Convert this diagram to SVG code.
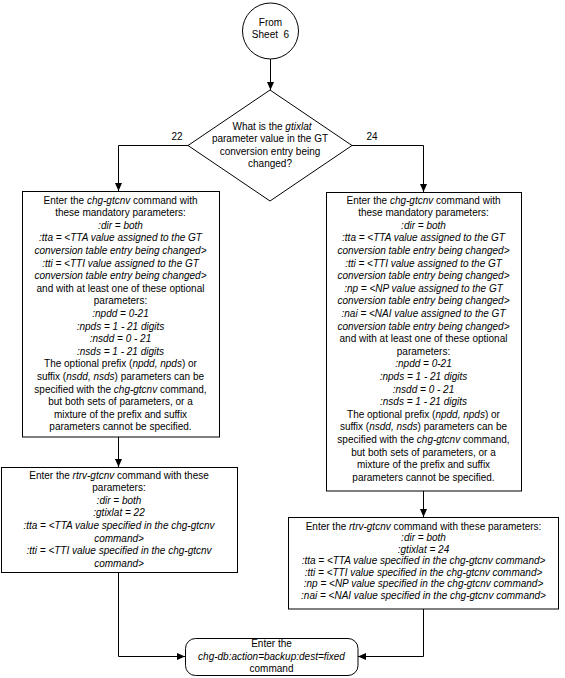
<svg xmlns="http://www.w3.org/2000/svg" width="565" height="678" viewBox="0 0 565 678">
<style>
text{font-family:"Liberation Sans",Arial,sans-serif;font-size:10px;fill:#000;text-anchor:middle}
.i{font-style:italic}
.n{fill:#fff;stroke:#000;stroke-width:1}
.c{fill:none;stroke:#000;stroke-width:1}
</style>
<defs>
<marker id="a" markerUnits="userSpaceOnUse" markerWidth="8" markerHeight="8" refX="8" refY="4" orient="auto">
<path d="M0,0.5 L8,4 L0,7.5 z" fill="#000"/>
</marker>
</defs>
<rect width="565" height="678" fill="#fff"/>
<g id="connectors">
<path class="c" d="M270.5,59 V90" marker-end="url(#a)"/>
<path class="c" d="M188,145.5 H118.5 V191" marker-end="url(#a)"/>
<path class="c" d="M352,145.5 H423.5 V192" marker-end="url(#a)"/>
<path class="c" d="M118.5,437 V467" marker-end="url(#a)"/>
<path class="c" d="M423.5,491 V517" marker-end="url(#a)"/>
<path class="c" d="M118.5,572 V656.5 H185" marker-end="url(#a)"/>
<path class="c" d="M423.5,609 V656.5 H358" marker-end="url(#a)"/>
<text x="177" y="140">22</text>
<text x="372" y="140">24</text>
</g>
<g id="start">
<circle class="n" cx="270.5" cy="31" r="28"/>
<text x="270.5" y="26">From</text>
<text x="270.5" y="38" xml:space="preserve">Sheet  6</text>
</g>
<g id="decision">
<path class="n" d="M270,90 L352,145.5 L270,201 L188,145.5 z"/>
<text x="272" y="130">What is the <tspan class="i">gtixlat</tspan></text>
<text x="270" y="142.4">parameter value in the GT</text>
<text x="270" y="154.8">conversion entry being</text>
<text x="270" y="167.2">changed?</text>
</g>
<g id="chg22">
<rect class="n" x="22.5" y="191.5" width="197" height="245.5"/>
<text x="120.5" y="203.5">Enter the <tspan class="i">chg-gtcnv</tspan> command with</text>
<text x="120.5" y="216.1">these mandatory parameters:</text>
<text x="120.5" y="228.7" class="i">:dir = both</text>
<text x="120.5" y="241.3" class="i">:tta = &lt;TTA value assigned to the GT</text>
<text x="120.5" y="253.9" class="i">conversion table entry being changed&gt;</text>
<text x="120.5" y="266.5" class="i">:tti = &lt;TTI value assigned to the GT</text>
<text x="120.5" y="279.1" class="i">conversion table entry being changed&gt;</text>
<text x="120.5" y="291.7">and with at least one of these optional</text>
<text x="120.5" y="304.3">parameters:</text>
<text x="120.5" y="316.9" class="i">:npdd = 0-21</text>
<text x="120.5" y="329.5" class="i">:npds = 1 - 21 digits</text>
<text x="120.5" y="342.1" class="i">:nsdd = 0 - 21</text>
<text x="120.5" y="354.7" class="i">:nsds = 1 - 21 digits</text>
<text x="120.5" y="367.3">The optional prefix (<tspan class="i">npdd, npds</tspan>) or</text>
<text x="120.5" y="379.9">suffix (<tspan class="i">nsdd, nsds</tspan>) parameters can be</text>
<text x="120.5" y="392.5">specified with the <tspan class="i">chg-gtcnv</tspan> command,</text>
<text x="120.5" y="405.1">but both sets of parameters, or a</text>
<text x="120.5" y="417.7">mixture of the prefix and suffix</text>
<text x="120.5" y="430.3">parameters cannot be specified.</text>
</g>
<g id="chg24">
<rect class="n" x="326.5" y="192.5" width="195" height="298.5"/>
<text x="423.5" y="203.5">Enter the <tspan class="i">chg-gtcnv</tspan> command with</text>
<text x="423.5" y="216.1">these mandatory parameters:</text>
<text x="423.5" y="228.7" class="i">:dir = both</text>
<text x="423.5" y="241.3" class="i">:tta = &lt;TTA value assigned to the GT</text>
<text x="423.5" y="253.9" class="i">conversion table entry being changed&gt;</text>
<text x="423.5" y="266.5" class="i">:tti = &lt;TTI value assigned to the GT</text>
<text x="423.5" y="279.1" class="i">conversion table entry being changed&gt;</text>
<text x="423.5" y="291.7" class="i">:np = &lt;NP value assigned to the GT</text>
<text x="423.5" y="304.3" class="i">conversion table entry being changed&gt;</text>
<text x="423.5" y="316.9" class="i">:nai = &lt;NAI value assigned to the GT</text>
<text x="423.5" y="329.5" class="i">conversion table entry being changed&gt;</text>
<text x="423.5" y="342.1">and with at least one of these optional</text>
<text x="423.5" y="354.7">parameters:</text>
<text x="423.5" y="367.3" class="i">:npdd = 0-21</text>
<text x="423.5" y="379.9" class="i">:npds = 1 - 21 digits</text>
<text x="423.5" y="392.5" class="i">:nsdd = 0 - 21</text>
<text x="423.5" y="405.1" class="i">:nsds = 1 - 21 digits</text>
<text x="423.5" y="417.7">The optional prefix (<tspan class="i">npdd, npds</tspan>) or</text>
<text x="423.5" y="430.3">suffix (<tspan class="i">nsdd, nsds</tspan>) parameters can be</text>
<text x="423.5" y="442.9">specified with the <tspan class="i">chg-gtcnv</tspan> command,</text>
<text x="423.5" y="455.5">but both sets of parameters, or a</text>
<text x="423.5" y="468.1">mixture of the prefix and suffix</text>
<text x="423.5" y="480.7">parameters cannot be specified.</text>
</g>
<g id="rtrv22">
<rect class="n" x="1.5" y="467.5" width="236" height="105"/>
<text x="119" y="478.5">Enter the <tspan class="i">rtrv-gtcnv</tspan> command with these</text>
<text x="119" y="491.1">parameters:</text>
<text x="119" y="503.7" class="i">:dir = both</text>
<text x="119" y="516.3" class="i">:gtixlat = 22</text>
<text x="119" y="528.9" class="i">:tta = &lt;TTA value specified in the chg-gtcnv</text>
<text x="119" y="541.5" class="i">command&gt;</text>
<text x="119" y="554.1" class="i">:tti = &lt;TTI value specified in the chg-gtcnv</text>
<text x="119" y="566.7" class="i">command&gt;</text>
</g>
<g id="rtrv24">
<rect class="n" x="288.5" y="517.5" width="270" height="91.5"/>
<text x="423.5" y="529.5">Enter the <tspan class="i">rtrv-gtcnv</tspan> command with these parameters:</text>
<text x="423.5" y="541" class="i">:dir = both</text>
<text x="423.5" y="552.5" class="i">:gtixlat = 24</text>
<text x="423.5" y="564" class="i">:tta = &lt;TTA value specified in the chg-gtcnv command&gt;</text>
<text x="423.5" y="575.5" class="i">:tti = &lt;TTI value specified in the chg-gtcnv command&gt;</text>
<text x="423.5" y="587" class="i">:np = &lt;NP value specified in the chg-gtcnv command&gt;</text>
<text x="423.5" y="598.5" class="i">:nai = &lt;NAI value specified in the chg-gtcnv command&gt;</text>
</g>
<g id="end">
<rect class="n" x="185.5" y="638.5" width="172.5" height="37" rx="10" ry="10"/>
<text x="271.5" y="646.5">Enter the</text>
<text x="271.5" y="659.5" class="i">chg-db:action=backup:dest=fixed</text>
<text x="271.5" y="672">command</text>
</g>
</svg>
